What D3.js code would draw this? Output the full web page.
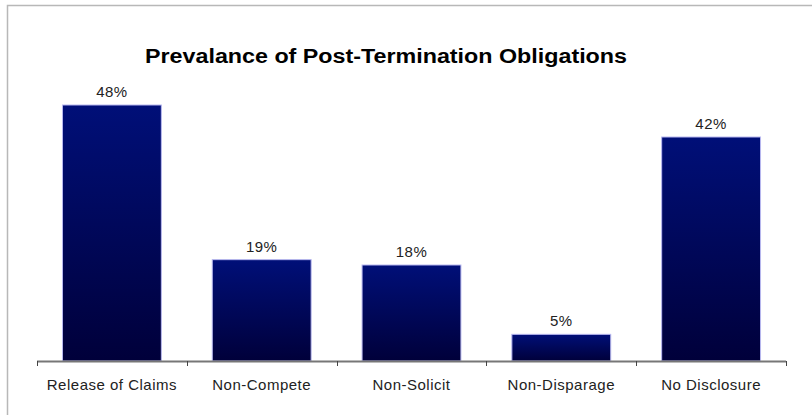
<!DOCTYPE html>
<html><head><meta charset="utf-8">
<script src="https://cdn.jsdelivr.net/npm/d3@7/dist/d3.min.js"></script>
<style>body{margin:0;background:#fff}svg{display:block}</style>
</head><body>
<svg id="c" width="812" height="415"></svg>
<script>
const categories = ["Release of Claims","Non-Compete","Non-Solicit","Non-Disparage","No Disclosure"];
const values = [48,19,18,5,42];
const valueLabels = ["48%","19%","18%","5%","42%"];
const title = "Prevalance of Post-Termination Obligations";

const svg = d3.select("#c");
const defs = svg.append("defs");
const g = defs.append("linearGradient").attr("id","bg").attr("x1",0).attr("y1",0).attr("x2",0).attr("y2",1);
g.append("stop").attr("offset","0%").attr("stop-color","#000f78");
g.append("stop").attr("offset","100%").attr("stop-color","#00003a");

svg.append("rect").attr("x",7.5).attr("y",5.5).attr("width",830).attr("height",430)
  .attr("fill","#fff").attr("stroke","#b8b8b8").attr("stroke-width",1.5);

const x = d3.scaleBand().domain(categories).range([37,786]).paddingInner(0.34).paddingOuter(0.17);
const y = d3.scaleLinear().domain([0,60]).range([361,41]);

svg.append("text").attr("x",386).attr("y",63).attr("text-anchor","middle")
  .attr("font-family","Liberation Sans, Arial, sans-serif")
  .attr("font-weight","bold").attr("font-size",20).attr("fill","#000")
  .attr("textLength",482).attr("lengthAdjust","spacingAndGlyphs").text(title);

svg.selectAll("text.val").data(values).join("text").attr("class","val")
  .attr("x",(d,i)=>x(categories[i])+x.bandwidth()/2).attr("y",d=>y(d)-8)
  .attr("text-anchor","middle").attr("font-family","Liberation Sans, Arial, sans-serif")
  .attr("font-size",15).attr("letter-spacing","0.5px").attr("fill","#222").text((d,i)=>valueLabels[i]);

svg.selectAll("rect.bar").data(values).join("rect").attr("class","bar")
  .attr("x",(d,i)=>x(categories[i])).attr("width",x.bandwidth())
  .attr("y",d=>y(d)).attr("height",d=>y(0)-y(d))
  .attr("fill","url(#bg)").attr("stroke","#b8b8f0").attr("stroke-width",1);

const axis = svg.append("g");
axis.append("line").attr("x1",37).attr("x2",786).attr("y1",361.5).attr("y2",361.5).attr("stroke","#777").attr("stroke-width",2);
const bounds = categories.map(c=>x(c)-x.step()*x.paddingInner()/2);
bounds.push(786);
bounds[0]=37;
axis.selectAll("line.t").data(bounds).join("line").attr("class","t")
  .attr("x1",d=>Math.round(d)+0.5).attr("x2",d=>Math.round(d)+0.5).attr("y1",361).attr("y2",366).attr("stroke","#444").attr("stroke-width",1);
axis.selectAll("text").data(categories).join("text")
  .attr("x",d=>x(d)+x.bandwidth()/2).attr("y",390).attr("text-anchor","middle")
  .attr("font-family","Liberation Sans, Arial, sans-serif").attr("font-size",15).attr("letter-spacing","0.5px").attr("fill","#222").text(d=>d);
</script>
</body></html>
